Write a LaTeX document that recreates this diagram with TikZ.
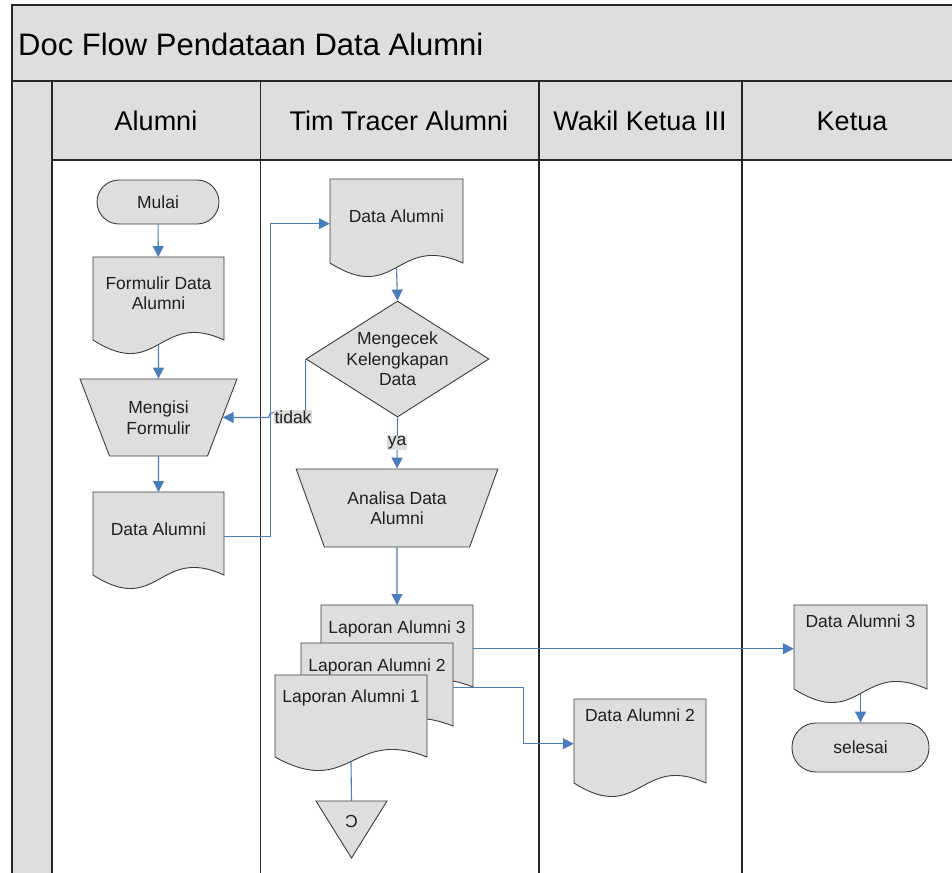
\documentclass[tikz,border=0pt]{standalone}
\usepackage{fontspec}
\setmainfont{Liberation Sans}
\usetikzlibrary{shapes.geometric, arrows.meta}

\definecolor{shapegray}{RGB}{222,222,222}
\definecolor{flowblue}{RGB}{74,126,187}
\definecolor{edgegray}{RGB}{60,60,60}

\tikzset{
  frame/.style={draw=black!85, line width=1.2pt},
  outline/.style={draw=edgegray, line width=0.9pt, fill=shapegray},
  flow/.style={draw=flowblue, line width=1.1pt, -{Triangle[length=11pt, width=11pt]}},
  plainflow/.style={draw=flowblue, line width=1.1pt},
  txt/.style={font=\fontsize{17.5}{20.5}\selectfont, align=center, text=black!88, inner sep=0pt},
  lanetitle/.style={font=\fontsize{27}{27}\selectfont, inner sep=0pt},
  docbox/.style={inner sep=0pt, anchor=north},
  terminal/.style={outline, txt, rounded corners=22pt, minimum width=122, minimum height=44},
  manualop/.style={outline, txt, trapezium, shape border rotate=180, trapezium stretches=true},
  decision/.style={outline, diamond, inner sep=0pt, minimum width=183, minimum height=116},
  flowlabel/.style={txt, fill=shapegray, inner sep=0.8pt}
}

% document symbol: name, centre x, top, width, side height, text y, text
\newcommand{\docshape}[7]{%
  \filldraw[outline] ({#2-#4/2},#3) -- ++(#4,0) -- ++(0,#5)
    .. controls ({#2},{#3+#5-30}) and ({#2},{#3+#5+42}) .. ({#2-#4/2},{#3+#5}) -- cycle;
  \node[docbox, minimum width=#4, minimum height=#5+5] (#1) at (#2,#3) {};
  \node[txt] (#1-txt) at (#2,#6) {#7};
}

\begin{document}
\begin{tikzpicture}[x=1pt, y=-1pt]
  \useasboundingbox (0,0) rectangle (952,872);

  % swimlane frame
  \fill[shapegray] (12,5) rectangle (960,160);
  \fill[shapegray] (12,160) rectangle (52,880);
  \draw[frame] (960,5) -- (12,5) -- (12,880);
  \draw[frame, line width=2pt] (12,81.5) -- (960,81.5);
  \draw[frame] (52,82) -- (52,880);
  \draw[frame] (52,160) -- (960,160);
  \foreach \x in {260.5,539,742}
    \draw[frame] (\x,82) -- (\x,880);

  \node[font=\fontsize{31}{31}\selectfont, anchor=west, inner sep=0pt] (title) at (18,44) {Doc Flow Pendataan Data Alumni};
  \node[lanetitle] (lane-alumni) at (156,121) {Alumni};
  \node[lanetitle] (lane-tim) at (399,121) {Tim Tracer Alumni};
  \node[lanetitle] (lane-wakil) at (640,121) {Wakil Ketua III};
  \node[lanetitle] (lane-ketua) at (852,121) {Ketua};

  % Alumni
  \node[terminal] (mulai) at (158,202) {Mulai};
  \docshape{formulir}{158.5}{257}{131}{83}{293}{Formulir Data\\Alumni}
  \node[manualop, minimum width=157, minimum height=77] (mengisi) at (158.5,417.5) {Mengisi\\Formulir};
  \docshape{dataA}{158.5}{492}{131}{83}{529}{Data Alumni}

  % Tim Tracer Alumni
  \docshape{dataT}{396.5}{179}{133}{84}{216}{Data Alumni}
  \node[decision, label={[txt]center:Mengecek\\Kelengkapan\\Data}] (cek) at (397.5,359) {};
  \node[manualop, minimum width=202, minimum height=78] (analisa) at (397,508) {Analisa Data\\Alumni};
  \docshape{lap3}{397}{605}{152}{82}{629}{Laporan Alumni 3}
  \docshape{lap2}{377}{643}{152}{83}{667}{Laporan Alumni 2}
  \docshape{lap1}{351}{675}{152}{82}{698}{Laporan Alumni 1}
  \draw[outline] (316,801) -- (387,801) -- (351.5,858) -- cycle;
  \node[coordinate] (ofp) at (351.5,801) {};
  \node[txt] (ofp-txt) at (351.5,822) {\rotatebox{180}{C}};

  % Wakil Ketua III
  \docshape{dataA2}{640}{699}{132}{84}{715}{Data Alumni 2}

  % Ketua
  \docshape{dataA3}{860.5}{605}{133}{84}{621}{Data Alumni 3}
  \node[terminal, minimum width=137, minimum height=49, rounded corners=24pt] (selesai) at (860.5,747.5) {selesai};

  % connectors
  \draw[flow] (mulai) -- (formulir);
  \draw[flow] (formulir.south) -- (mengisi.north);
  \draw[flow] (mengisi.south) -- (dataA.north);
  \draw[flow] (dataA.east) -- ++(46,0) |- (dataT.west);
  \draw[flow] (dataT.south) -- (cek.north);
  \draw[flow] (cek.west) |- ([xshift=56pt]mengisi.east)
    .. controls +(0,-7) and +(0,-7) .. ++(-10,0) -- (mengisi.east);
  \draw[flow] (cek.south) -- (analisa.north);
  \draw[flow] (analisa.south) -- (lap3.north);
  \draw[flow] (lap3.east) -- (lap3.east -| dataA3.west);
  \draw[flow] (lap2.east) -- ++(70,0) |- (dataA2.west);
  \draw[plainflow] (lap1.south) -- (ofp);
  \draw[flow] (dataA3.south) -- (selesai.north);

  \node[flowlabel] (tidak) at (293,417) {tidak};
  \node[flowlabel] (ya) at (397,443) {ya};
\end{tikzpicture}
\end{document}
